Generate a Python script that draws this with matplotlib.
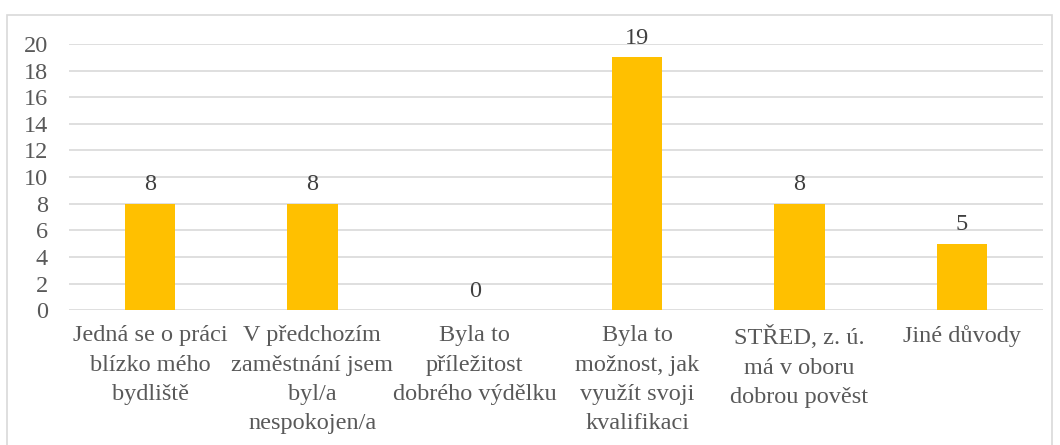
import matplotlib.pyplot as plt
from matplotlib.patches import Rectangle

categories = [
    "Jedná se o práci\nblízko mého\nbydliště",
    "V předchozím\nzaměstnání jsem\nbyl/a\nnespokojen/a",
    "Byla to\npříležitost\ndobrého výdělku",
    "Byla to\nmožnost, jak\nvyužít svoji\nkvalifikaci",
    "STŘED, z. ú.\nmá v oboru\ndobrou pověst",
    "Jiné důvody",
]
values = [8, 8, 0, 19, 8, 5]
y_ticks = list(range(0, 21, 2))

plt.rcParams["font.family"] = "serif"
plt.rcParams["font.serif"] = ["Liberation Serif", "DejaVu Serif"]

fig = plt.figure(figsize=(10.6, 4.45), dpi=100)
ax = fig.add_axes([0.065, 0.303, 0.919, 0.598])

# Outer chart border (bottom edge runs past the image)
fig.patches.append(Rectangle((7 / 1060, -0.05), 1045 / 1060, 1 - 15 / 445 + 0.05,
                             transform=fig.transFigure, fill=False,
                             edgecolor="#D9D9D9", linewidth=1.2))

x = range(len(categories))
bars = ax.bar(x, values, width=0.31, color="#FFC000", zorder=3)

for xi, v in zip(x, values):
    ax.text(xi, v + 0.65, str(v), ha="center", va="bottom",
            fontsize=17.5, color="#404040")

ax.set_xlim(-0.5, len(categories) - 0.5)
ax.set_ylim(0, 20)
ax.set_yticks(y_ticks)
ax.set_xticks(list(x))
ax.set_xticklabels(categories, fontsize=17.5, color="#595959", linespacing=1.52)
ax.tick_params(axis="y", labelsize=17.5, labelcolor="#595959", length=0, pad=15)
ax.tick_params(axis="x", length=0, pad=11)

ax.yaxis.grid(True, color="#D9D9D9", linewidth=1.2, zorder=0)
for spine in ax.spines.values():
    spine.set_visible(False)

fig.savefig("out.png", dpi=100)
